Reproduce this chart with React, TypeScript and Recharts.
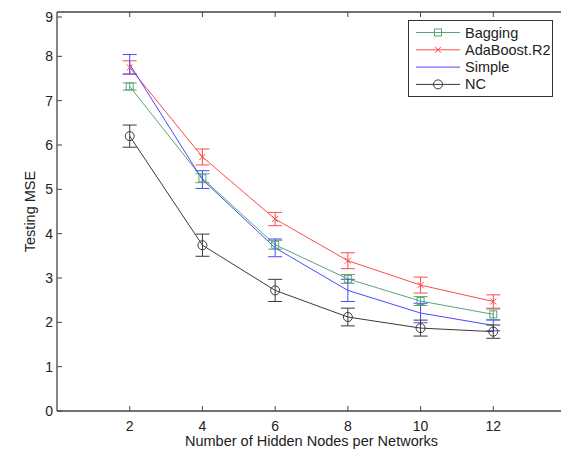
import React from "react";
import { ComposedChart, Line, XAxis, YAxis, ErrorBar, Legend } from "recharts";

const hiddenNodes = [2, 4, 6, 8, 10, 12];
const bagging = [7.32, 5.25, 3.75, 2.98, 2.48, 2.18];
const baggingErr = [0.08, 0.1, 0.1, 0.1, 0.1, 0.12];
const adaboost = [7.75, 5.73, 4.33, 3.39, 2.84, 2.47];
const adaboostErr = [0.15, 0.18, 0.15, 0.18, 0.18, 0.15];
const simple = [7.82, 5.22, 3.68, 2.72, 2.21, 1.93];
const simpleErr = [0.22, 0.2, 0.2, 0.25, 0.22, 0.12];
const nc = [6.2, 3.74, 2.72, 2.12, 1.87, 1.79];
const ncErr = [0.25, 0.25, 0.25, 0.2, 0.18, 0.15];

const xTicks = [2, 4, 6, 8, 10, 12];
const yTicks = [0, 1, 2, 3, 4, 5, 6, 7, 8, 9];
const seriesNames = ["Bagging", "AdaBoost.R2", "Simple", "NC"];

const data = hiddenNodes.map((x, i) => ({
  x,
  bagging: bagging[i],
  baggingErr: baggingErr[i],
  adaboost: adaboost[i],
  adaboostErr: adaboostErr[i],
  simple: simple[i],
  simpleErr: simpleErr[i],
  nc: nc[i],
  ncErr: ncErr[i],
}));

const GREEN = "#5aa575";
const RED = "#ff4a4a";
const BLUE = "#4a4aff";
const BLACK = "#3a3a3a";
const AXIS = "#454545";
const FONT = "Liberation Sans, Arial, sans-serif";

const squareMarker = (cx: number, cy: number, color: string, key?: any) => (
  <rect key={key} x={cx - 3.5} y={cy - 3.5} width={7} height={7} fill="none" stroke={color} strokeWidth={1} />
);
const crossMarker = (cx: number, cy: number, color: string, key?: any) => (
  <g key={key} stroke={color} strokeWidth={1}>
    <line x1={cx - 3} y1={cy - 3} x2={cx + 3} y2={cy + 3} />
    <line x1={cx - 3} y1={cy + 3} x2={cx + 3} y2={cy - 3} />
  </g>
);
const circleMarker = (cx: number, cy: number, color: string, key?: any) => (
  <circle key={key} cx={cx} cy={cy} r={4.5} fill="none" stroke={color} strokeWidth={1} />
);

const BottomTick = (props: any) => {
  const { x, y, payload } = props;
  return (
    <g>
      <line x1={x} x2={x} y1={y} y2={y - 5} stroke={AXIS} strokeWidth={1} />
      <text x={x} y={y + 19.5} textAnchor="middle" fontSize={14} fontFamily={FONT} fill="#222">
        {payload.value}
      </text>
    </g>
  );
};
const TopTick = (props: any) => {
  const { x, y } = props;
  return <line x1={x} x2={x} y1={y} y2={y + 5} stroke={AXIS} strokeWidth={1} />;
};
const LeftTick = (props: any) => {
  const { x, y, payload } = props;
  return (
    <g>
      <line x1={x} x2={x + 5} y1={y} y2={y} stroke={AXIS} strokeWidth={1} />
      <text x={x - 4} y={y + 5} textAnchor="end" fontSize={14} fontFamily={FONT} fill="#222">
        {payload.value}
      </text>
    </g>
  );
};
const RightTick = (props: any) => {
  const { x, y } = props;
  return <line x1={x} x2={x - 5} y1={y} y2={y} stroke={AXIS} strokeWidth={1} />;
};

const legendColors = [GREEN, RED, BLUE, BLACK];
const legendMarkers = [squareMarker, crossMarker, null, circleMarker];

const LegendBox = () => (
  <svg width={145} height={77} style={{ display: "block" }}>
    <rect x={0.5} y={0.5} width={144} height={76} fill="#fff" stroke="#333" strokeWidth={1} />
    {seriesNames.map((name, i) => {
      const cy = 12.5 + i * 17.3;
      const m = legendMarkers[i];
      return (
        <g key={name}>
          <line x1={8} x2={52} y1={cy} y2={cy} stroke={legendColors[i]} strokeWidth={1} />
          {m ? m(30, cy, legendColors[i]) : null}
          <text x={57} y={cy + 5} fontSize={14.5} fontFamily={FONT} fill="#222">
            {name}
          </text>
        </g>
      );
    })}
  </svg>
);

export default function App() {
  return (
    <ComposedChart width={561} height={441} data={data} margin={{ top: 3, right: 2, bottom: 0, left: 0 }}>
      <XAxis
        dataKey="x"
        type="number"
        domain={[0, 14]}
        ticks={xTicks}
        allowDataOverflow
        tickSize={0}
        tickMargin={0}
        tickLine={false}
        tick={<BottomTick />}
        axisLine={{ stroke: AXIS, strokeWidth: 1.3 }}
        height={38}
        label={{
          value: "Number of Hidden Nodes per Networks",
          position: "insideBottom",
          offset: 0,
          dy: -3,
          fontSize: 14.5,
          fontFamily: FONT,
          fill: "#222",
        }}
      />
      <XAxis
        xAxisId="top"
        orientation="top"
        dataKey="x"
        type="number"
        domain={[0, 14]}
        ticks={xTicks}
        allowDataOverflow
        tickSize={0}
        tickMargin={0}
        tickLine={false}
        tick={<TopTick />}
        axisLine={{ stroke: AXIS, strokeWidth: 1.3 }}
        height={1}
      />
      <YAxis
        type="number"
        domain={[0, 9]}
        ticks={yTicks}
        allowDataOverflow
        tickSize={0}
        tickMargin={0}
        tickLine={false}
        tick={<LeftTick />}
        axisLine={{ stroke: AXIS, strokeWidth: 1.3 }}
        width={49}
        label={{
          value: "Testing MSE",
          angle: -90,
          position: "insideLeft",
          offset: 0,
          dx: 22,
          fontSize: 14.5,
          fontFamily: FONT,
          fill: "#222",
          style: { textAnchor: "middle" },
        }}
      />
      <YAxis
        yAxisId="right"
        orientation="right"
        type="number"
        domain={[0, 9]}
        ticks={yTicks}
        allowDataOverflow
        tickSize={0}
        tickMargin={0}
        tickLine={false}
        tick={<RightTick />}
        axisLine={{ stroke: AXIS, strokeWidth: 1.3 }}
        width={1}
      />
      <Legend
        layout="vertical"
        align="center"
        verticalAlign="middle"
        content={() => <LegendBox />}
        wrapperStyle={{ position: "absolute", left: 400, top: 12, width: 145, height: 77 }}
      />
      <Line
        dataKey="bagging"
        name="Bagging"
        stroke={GREEN}
        strokeWidth={1}
        isAnimationActive={false}
        dot={(p: any) => squareMarker(p.cx, p.cy, GREEN, p.index)}
        activeDot={false}
      >
        <ErrorBar dataKey="baggingErr" direction="y" width={7} stroke={GREEN} strokeWidth={1} />
      </Line>
      <Line
        dataKey="adaboost"
        name="AdaBoost.R2"
        stroke={RED}
        strokeWidth={1}
        isAnimationActive={false}
        dot={(p: any) => crossMarker(p.cx, p.cy, RED, p.index)}
        activeDot={false}
      >
        <ErrorBar dataKey="adaboostErr" direction="y" width={7} stroke={RED} strokeWidth={1} />
      </Line>
      <Line
        dataKey="simple"
        name="Simple"
        stroke={BLUE}
        strokeWidth={1}
        isAnimationActive={false}
        dot={false}
        activeDot={false}
      >
        <ErrorBar dataKey="simpleErr" direction="y" width={7} stroke={BLUE} strokeWidth={1} />
      </Line>
      <Line
        dataKey="nc"
        name="NC"
        stroke={BLACK}
        strokeWidth={1}
        isAnimationActive={false}
        dot={(p: any) => circleMarker(p.cx, p.cy, BLACK, p.index)}
        activeDot={false}
      >
        <ErrorBar dataKey="ncErr" direction="y" width={7} stroke={BLACK} strokeWidth={1} />
      </Line>
    </ComposedChart>
  );
}
